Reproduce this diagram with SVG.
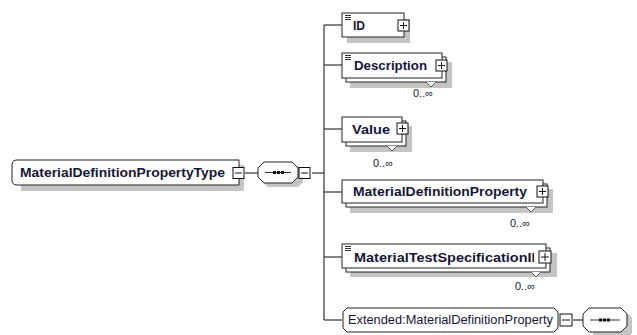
<svg xmlns="http://www.w3.org/2000/svg" width="637" height="335" viewBox="0 0 637 335">
<style>
.box{fill:#fff;stroke:#222;stroke-width:1}
.sh{fill:#c4c4c4;stroke:none}
.ln{stroke:#333;stroke-width:1.2;fill:none}
.pm{fill:#fff;stroke:#111;stroke-width:1}
.pmx{stroke:#111;stroke-width:1;fill:none}
.nm{font-family:"Liberation Sans",Arial,sans-serif;font-weight:bold;font-size:12px;fill:#161638}
.rg{font-family:"Liberation Sans",Arial,sans-serif;font-size:12px;fill:#161638}
.oc{font-family:"Liberation Sans",Arial,sans-serif;font-size:11px;fill:#161638}
.ic{stroke:#333;stroke-width:1}
.notch{fill:#fff;stroke:#555;stroke-width:1}
</style>
<defs>
<clipPath id="clipMT"><rect x="342" y="244" width="192" height="24"/></clipPath>
</defs>

<g id="connectors">
<line class="ln" x1="245" y1="173" x2="258" y2="173"/>
<line class="ln" x1="312" y1="173" x2="324" y2="173"/>
<line class="ln" x1="324" y1="25" x2="324" y2="320"/>
<line class="ln" x1="324" y1="25" x2="342" y2="25"/>
<line class="ln" x1="324" y1="65" x2="342" y2="65"/>
<line class="ln" x1="324" y1="129" x2="342" y2="129"/>
<line class="ln" x1="324" y1="192" x2="342" y2="192"/>
<line class="ln" x1="324" y1="257" x2="342" y2="257"/>
<line class="ln" x1="324" y1="320" x2="342" y2="320"/>
<line class="ln" x1="573" y1="320" x2="583" y2="320"/>
</g>

<g id="root">
<path class="sh" d="M21,165 H244 V191 H21 Z"/>
<path class="box" d="M17,160 H239 V185 H17 Q12,185 12,180 V165 Q12,160 17,160 Z"/>
<text class="nm" x="20" y="177" textLength="205" lengthAdjust="spacingAndGlyphs">MaterialDefinitionPropertyType</text>
<rect class="pm" x="233" y="167.5" width="11" height="11"/>
<line class="pmx" x1="235" y1="173" x2="242" y2="173"/>
</g>

<g id="sequence1">
<path class="sh" d="M268,166 H298 L303,171 V182 L298,187 H268 L263,182 V171 Z"/>
<path class="box" d="M264,162 H292 L298,168 V177 L292,183 H264 L258,177 V168 Z"/>
<line class="ic" x1="265" y1="172.5" x2="291" y2="172.5"/>
<rect x="273" y="171" width="3" height="3" fill="#111"/>
<rect x="277" y="171" width="3" height="3" fill="#111"/>
<rect x="281" y="171" width="3" height="3" fill="#111"/>
<rect class="pm" x="299" y="167.5" width="11" height="11"/>
<line class="pmx" x1="301" y1="173" x2="308" y2="173"/>
</g>

<g id="ID">
<rect class="sh" x="347" y="19" width="63" height="24"/>
<rect class="box" x="342" y="13" width="62" height="24"/>
<line class="ic" x1="345" y1="15.5" x2="351" y2="15.5"/>
<line class="ic" x1="345" y1="17.5" x2="351" y2="17.5"/>
<line class="ic" x1="345" y1="19.5" x2="351" y2="19.5"/>
<text class="nm" x="353" y="30">ID</text>
<rect class="pm" x="398" y="20" width="11" height="11"/>
<line class="pmx" x1="400" y1="25.5" x2="407" y2="25.5"/>
<line class="pmx" x1="403.5" y1="22" x2="403.5" y2="29"/>
</g>

<g id="Description">
<rect class="sh" x="350" y="62" width="102" height="26"/>
<rect class="box" x="346" y="57" width="100" height="25"/>
<rect class="box" x="342" y="53" width="100" height="25"/>
<line class="ic" x1="345" y1="55.5" x2="351" y2="55.5"/>
<line class="ic" x1="345" y1="57.5" x2="351" y2="57.5"/>
<line class="ic" x1="345" y1="59.5" x2="351" y2="59.5"/>
<text class="nm" x="354" y="70" textLength="73" lengthAdjust="spacingAndGlyphs">Description</text>
<rect class="pm" x="436" y="60" width="11" height="11"/>
<line class="pmx" x1="438" y1="65.5" x2="445" y2="65.5"/>
<line class="pmx" x1="441.5" y1="62" x2="441.5" y2="69"/>
<polyline class="notch" points="426,82 431,87 436,82"/>
<text class="oc" x="413" y="97">0..∞</text>
</g>

<g id="Value">
<rect class="sh" x="350" y="126" width="62" height="26"/>
<rect class="box" x="346" y="121" width="60" height="25"/>
<rect class="box" x="342" y="117" width="60" height="25"/>
<text class="nm" x="352" y="134" textLength="38" lengthAdjust="spacingAndGlyphs">Value</text>
<rect class="pm" x="397" y="123" width="11" height="11"/>
<line class="pmx" x1="399" y1="128.5" x2="406" y2="128.5"/>
<line class="pmx" x1="402.5" y1="125" x2="402.5" y2="132"/>
<polyline class="notch" points="387,146 392,151 397,146"/>
<text class="oc" x="373" y="167">0..∞</text>
</g>

<g id="MaterialDefinitionProperty">
<rect class="sh" x="350" y="189" width="203" height="24"/>
<rect class="box" x="346" y="184" width="201" height="23"/>
<rect class="box" x="342" y="180" width="201" height="23"/>
<text class="nm" x="353" y="196" textLength="174" lengthAdjust="spacingAndGlyphs">MaterialDefinitionProperty</text>
<rect class="pm" x="537" y="186" width="11" height="11"/>
<line class="pmx" x1="539" y1="191.5" x2="546" y2="191.5"/>
<line class="pmx" x1="542.5" y1="188" x2="542.5" y2="195"/>
<polyline class="notch" points="526,207 531,212 536,207"/>
<text class="oc" x="510" y="227">0..∞</text>
</g>

<g id="MaterialTestSpecificationID">
<rect class="sh" x="350" y="253" width="207" height="24"/>
<rect class="box" x="346" y="248" width="204" height="24"/>
<rect class="box" x="342" y="244" width="204" height="24"/>
<line class="ic" x1="345" y1="246.5" x2="351" y2="246.5"/>
<line class="ic" x1="345" y1="248.5" x2="351" y2="248.5"/>
<line class="ic" x1="345" y1="250.5" x2="351" y2="250.5"/>
<g clip-path="url(#clipMT)">
<text class="nm" x="354" y="262" textLength="188" lengthAdjust="spacingAndGlyphs">MaterialTestSpecificationID</text>
</g>
<rect class="pm" x="539" y="251" width="12" height="12"/>
<line class="pmx" x1="541" y1="257" x2="549" y2="257"/>
<line class="pmx" x1="545" y1="253" x2="545" y2="261"/>
<polyline class="notch" points="531,272 536,277 541,272"/>
<text class="oc" x="515" y="290">0..∞</text>
</g>

<g id="ExtendedMaterialDefinitionProperty">
<path class="box" d="M347,308 H554 L558,312 V328 L554,332 H347 L343,328 V312 Z"/>
<text class="rg" x="348" y="324" textLength="205" lengthAdjust="spacingAndGlyphs">Extended:MaterialDefinitionProperty</text>
<rect class="pm" x="560" y="314" width="12" height="12"/>
<line class="pmx" x1="562" y1="320" x2="570" y2="320"/>
</g>

<g id="sequence2">
<path class="sh" d="M593,313 H627 L632,318 V333 L627,338 H593 Z"/>
<path class="box" d="M589,308 H621 L627,314 V326 L621,332 H589 L583,326 V314 Z"/>
<line class="ic" x1="590" y1="320" x2="620" y2="320"/>
<rect x="599" y="318.5" width="3" height="3" fill="#111"/>
<rect x="603" y="318.5" width="3" height="3" fill="#111"/>
<rect x="607" y="318.5" width="3" height="3" fill="#111"/>
</g>
</svg>
